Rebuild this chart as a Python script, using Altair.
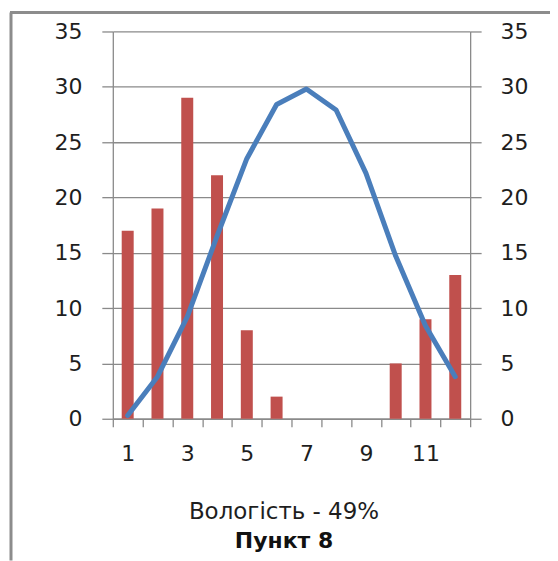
import altair as alt
import pandas as pd

points = list(range(1, 13))
bar_values = [17, 19, 29, 22, 8, 2, 0, 0, 0, 5, 9, 13]
line_values = [0.3, 3.8, 9.2, 16.5, 23.5, 28.4, 29.8, 27.9, 22.2, 14.7, 8.4, 3.8]
y_ticks = [0, 5, 10, 15, 20, 25, 30, 35]

x_title = "Вологість - 49%"
chart_title = "Пункт 8"

df = pd.DataFrame({"x": points, "bar": bar_values, "line": line_values})

FONT = "DejaVu Sans"
GRID = "#8a8a8a"
TXT = "#1e1e1e"

x_axis = alt.Axis(
    title=None, labelAngle=0, labelExpr="datum.value % 2 == 1 ? datum.label : ''",
    tickBand="extent", tickSize=8, tickColor=GRID, tickWidth=1.3, domainColor=GRID, domainWidth=1.3,
    labelFontSize=22, labelFont=FONT, labelColor=TXT, labelPadding=17, grid=False,
)

base = alt.Chart(df).encode(x=alt.X("x:O", axis=x_axis, scale=alt.Scale(paddingInner=0, paddingOuter=0)))

bars = base.mark_bar(color="#c0504d", size=12).encode(
    y=alt.Y("bar:Q", scale=alt.Scale(domain=[0, 35], nice=False),
            axis=alt.Axis(title=None, values=y_ticks, orient="left", grid=True, gridColor=GRID,
                          gridWidth=1.3, tickSize=11, tickColor=GRID, tickWidth=1.3,
                          domainColor=GRID, domainWidth=1.3, labelFontSize=22, labelFont=FONT,
                          labelColor=TXT, labelPadding=20))
)

line = base.mark_line(color="#4a7ebb", strokeWidth=5, strokeCap="round", strokeJoin="round").encode(
    y=alt.Y("line:Q", scale=alt.Scale(domain=[0, 35], nice=False),
            axis=alt.Axis(title=None, values=y_ticks, orient="right", grid=False,
                          tickSize=11, tickColor=GRID, tickWidth=1.3,
                          domainColor=GRID, domainWidth=1.3, labelFontSize=22, labelFont=FONT,
                          labelColor=TXT, labelPadding=19))
)

frame_df = pd.DataFrame({"k": [0]})
frame_left = alt.Chart(frame_df).mark_rule(color="#8c8c8c", strokeWidth=3).encode(
    x=alt.value(-102), y=alt.value(-19), y2=alt.value(530))
frame_top = alt.Chart(frame_df).mark_rule(color="#8c8c8c", strokeWidth=3).encode(
    x=alt.value(-103), x2=alt.value(446), y=alt.value(-19))

chart = alt.layer(bars, line, frame_left, frame_top).resolve_scale(y="independent").properties(
    width=358, height=388,
    title=alt.Title(x_title, subtitle=chart_title, orient="bottom", fontSize=23,
                    fontWeight="normal", font=FONT, color=TXT,
                    subtitleFont=FONT, subtitleFontSize=22, subtitleFontWeight="bold",
                    subtitleColor="#111", subtitlePadding=7,
                    anchor="middle", frame="bounds", offset=-61),
    autosize=alt.AutoSizeParams(type="none"),
    padding={"left": 105, "top": 23, "right": 80, "bottom": 150},
).configure_view(stroke=None)

chart.save("out.html", embed_options={"renderer": "svg", "actions": False})
